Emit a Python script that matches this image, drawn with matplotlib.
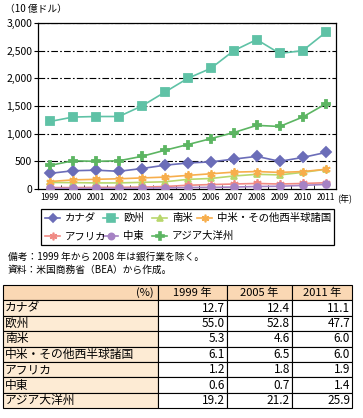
import numpy as np
import matplotlib.pyplot as plt
from matplotlib.lines import Line2D
from matplotlib.patches import Rectangle
from matplotlib.ticker import FuncFormatter

plt.rcParams['font.family'] = ['Noto Sans CJK JP', 'DejaVu Sans']

years = list(range(1999, 2012))

# 地域別 米国の対外直接投資残高（10 億ドル）
canada = [282, 330, 340, 320, 370, 430, 470, 490, 540, 590, 500, 570, 660]
europe = [1220, 1300, 1310, 1310, 1500, 1750, 2000, 2180, 2500, 2700, 2450, 2500, 2830]
s_america = [118, 115, 110, 110, 120, 130, 174, 190, 235, 265, 255, 300, 356]
c_america = [135, 165, 175, 185, 200, 215, 246, 275, 305, 315, 300, 315, 356]
africa = [27, 25, 30, 30, 35, 45, 68, 80, 90, 100, 90, 100, 113]
mideast = [13, 10, 12, 12, 15, 20, 27, 30, 35, 45, 50, 65, 83]
asia = [426, 510, 500, 510, 590, 700, 803, 910, 1020, 1150, 1130, 1300, 1537]

names = ['カナダ', '欧州', '南米', '中米・その他西半球諸国', 'アフリカ', '中東', 'アジア大洋州']
colors = ['#6b6db8', '#5fc2a6', '#b8d76c', '#f7ae4c', '#f08a84', '#a682c4', '#5cb562']
markers = ['D', 's', '^', (6, 2, 0), (6, 2, 0), 'o', 'P']
msizes = [5, 6, 5, 6, 6, 5, 6]

# 構成比（%）
tbl_cols = ['1999 年', '2005 年', '2011 年']
tbl_vals = [
    ['12.7', '12.4', '11.1'],
    ['55.0', '52.8', '47.7'],
    ['5.3', '4.6', '6.0'],
    ['6.1', '6.5', '6.0'],
    ['1.2', '1.8', '1.9'],
    ['0.6', '0.7', '1.4'],
    ['19.2', '21.2', '25.9'],
]

W, H = 363, 418
fig = plt.figure(figsize=(W / 100, H / 100), dpi=100)

ax = fig.add_axes([38 / W, 1 - 189 / H, (336 - 38) / W, (189 - 23) / H])
series = [canada, europe, s_america, c_america, africa, mideast, asia]
order = [5, 4, 2, 3, 0, 6, 1]
for i in order:
    ax.plot(years, series[i], color=colors[i], marker=markers[i], ms=msizes[i],
            mew=1.3, mec=colors[i], lw=1.2, zorder=3 + i)

ax.set_xlim(1998.48, 2011.45)
ax.set_ylim(0, 3000)
ax.set_yticks(np.arange(0, 3001, 500))
ax.yaxis.set_major_formatter(FuncFormatter(lambda v, p: f'{int(v):,}'))
ax.set_xticks(years)
ax.set_xticks(np.arange(1999.5, 2011, 1), minor=True)
ax.tick_params(axis='x', which='major', length=0, labelsize=6, pad=3)
ax.tick_params(axis='x', which='minor', direction='in', length=3, width=0.6)
ax.tick_params(axis='y', length=3, width=0.8, labelsize=7.5, pad=1)
for y in range(500, 3001, 500):
    ax.axhline(y, color='black', lw=0.8, ls=(0, (6, 2, 1.5, 2)), zorder=1)
for s in ax.spines.values():
    s.set_linewidth(0.9)
ax.text(1.003, -0.062, '(年)', transform=ax.transAxes, fontsize=6.5,
        ha='left', va='center')
fig.text(5 / W, 1 - 9 / H, '（10 億ドル）', fontsize=7, ha='left', va='center')

# 凡例（手組み）
leg = fig.add_axes([0, 0, 1, 1])
leg.set_xlim(0, W)
leg.set_ylim(H, 0)
leg.axis('off')
leg.add_patch(Rectangle((41, 209), 293, 36, fill=False, lw=0.9, ec='black'))
col_x = [45, 103, 152, 197]
row_y = [218, 236]
slots = [(0, 0), (0, 1), (0, 2), (0, 3), (1, 0), (1, 1), (1, 2)]
for i, (r, c) in enumerate(slots):
    x0 = col_x[c]
    y0 = row_y[r]
    leg.add_line(Line2D([x0, x0 + 15], [y0, y0], color=colors[i], lw=1.2,
                        marker=None))
    leg.add_line(Line2D([x0 + 7.5], [y0], color=colors[i], marker=markers[i],
                        ms=msizes[i] - 0.5, mew=1.2, mec=colors[i]))
    leg.text(x0 + 20, y0, names[i], fontsize=7.5, ha='left', va='center')

leg.text(8, 257, '備考：1999 年から 2008 年は銀行業を除く。', fontsize=7,
         ha='left', va='center')
leg.text(8, 270, '資料：米国商務省（BEA）から作成。', fontsize=7,
         ha='left', va='center')

# 表
x_edges = [3, 158, 227, 292, 352]
top, rh = 285, 15.4
head_fill = '#fad8b4'
first_fill = '#fdebd4'
nrows = len(tbl_vals) + 1
for r in range(nrows):
    y = top + r * rh
    for c in range(4):
        if r == 0:
            fc = head_fill
        elif c == 0:
            fc = first_fill
        else:
            fc = 'white'
        leg.add_patch(Rectangle((x_edges[c], y), x_edges[c + 1] - x_edges[c], rh,
                                fc=fc, ec='black', lw=0.8))
leg.text(x_edges[1] - 4, top + rh / 2, '(%)', fontsize=8, ha='right', va='center')
for c, lab in enumerate(tbl_cols):
    leg.text((x_edges[c + 1] + x_edges[c + 2]) / 2, top + rh / 2, lab,
             fontsize=8, ha='center', va='center')
for r, row in enumerate(tbl_vals):
    y = top + (r + 1.5) * rh
    leg.text(x_edges[0] + 2, y, names[r], fontsize=8.5, ha='left', va='center')
    for c, v in enumerate(row):
        leg.text(x_edges[c + 2] - 2, y, v, fontsize=8.5, ha='right', va='center')

fig.savefig('out.png', dpi=100)
